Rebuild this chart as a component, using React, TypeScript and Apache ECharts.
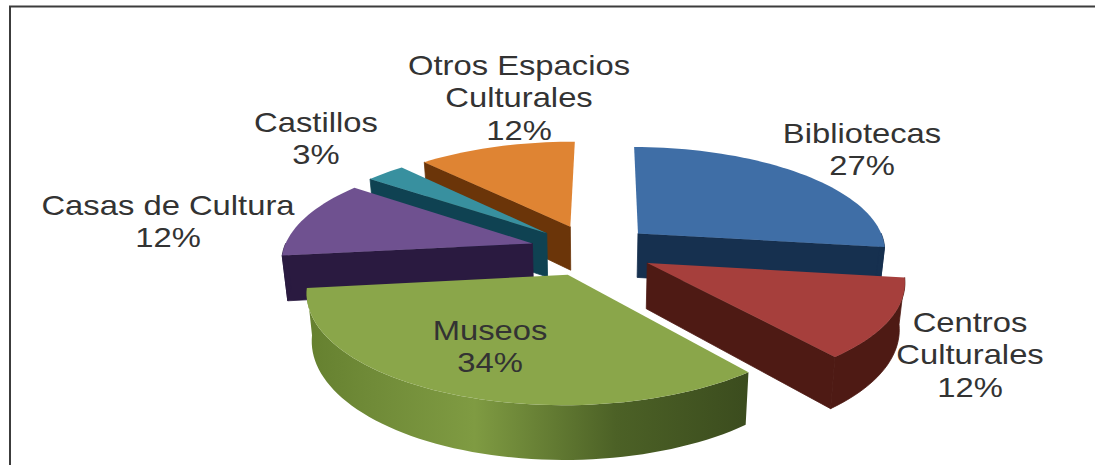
import React, { useEffect, useRef } from "react";
import * as echarts from "echarts";

// Share of cultural spaces by type, clockwise from twelve o'clock.
const categories = [
  "Bibliotecas",
  "Centros Culturales",
  "Museos",
  "Casas de Cultura",
  "Castillos",
  "Otros Espacios Culturales",
];
const percentages = [27, 12, 34, 12, 3, 12];

// Back-to-front order of the slices, as indices into the lists above.
const paintOrder = [0, 5, 4, 3, 1, 2];

const topColors = ["#3f6ea6", "#a63f3c", "#8aa64a", "#6f5190", "#38909f", "#df8433"];
const sideColors = ["#16304f", "#4e1a14", "#46591f", "#2a1a40", "#0f4252", "#6b3509"];

// Projection of the tilted pie onto the page.
const CX = 592;
const CY = 250;
const RX = 249;
const RY = 103.5;
const PERSPECTIVE = 0.145;
const EXPLODE = 0.25;
const DEPTH = 45;
const DROP_SHRINK = 0.018;
const START_DEG = 0.5;

const rad = (d: number) => (d * Math.PI) / 180;

function project(px: number, py: number, drop: number) {
  const s = 1 / (1 + PERSPECTIVE * py);
  const shrink = 1 - DROP_SHRINK * drop;
  return [CX + RX * px * s * shrink, CY - RY * py * s + drop * DEPTH * s];
}

function rimPoints(ox: number, oy: number, from: number, to: number, drop: number) {
  const pts: number[][] = [];
  const steps = Math.max(2, Math.ceil((to - from) / 2));
  for (let i = 0; i <= steps; i++) {
    const a = rad(from + ((to - from) * i) / steps);
    pts.push(project(ox + Math.sin(a), oy + Math.cos(a), drop));
  }
  return pts;
}

function sliceElements(index: number) {
  const before = percentages.slice(0, index).reduce((a, b) => a + b, 0);
  const from = START_DEG + before * 3.6;
  const to = from + percentages[index] * 3.6;
  const mid = rad((from + to) / 2);
  const ox = EXPLODE * Math.sin(mid);
  const oy = EXPLODE * Math.cos(mid);

  const side = sideColors[index];
  const apexTop = project(ox, oy, 0);
  const apexLow = project(ox, oy, 1);
  const children: any[] = [];
  const poly = (points: number[][], fill: any, stroke: string | null = null) =>
    children.push({
      type: "polygon",
      shape: { points },
      style: { fill, stroke, lineWidth: stroke ? 0.8 : 0 },
    });

  // Flat cut faces first, skipping the ones turned away from the viewer.
  const cutFace = (a: number) => {
    const rimTop = rimPoints(ox, oy, a, a, 0)[0];
    const rimLow = rimPoints(ox, oy, a, a, 1)[0];
    poly([apexTop, rimTop, rimLow, apexLow], side, side);
  };
  if (Math.sin(rad(from)) < -0.05) cutFace(from);
  if (Math.sin(rad(to)) > 0.05) cutFace(to);

  // Curved outer wall, only the part that faces the viewer.
  const wallFrom = Math.max(from, 90);
  const wallTo = Math.min(to, 270);
  if (wallTo > wallFrom) {
    const upper = rimPoints(ox, oy, wallFrom, wallTo, 0);
    const lower = rimPoints(ox, oy, wallFrom, wallTo, 1).reverse();
    const xs = upper.map((p) => p[0]);
    const x0 = Math.min(...xs);
    const x1 = Math.max(...xs);
    if (categories[index] === "Museos") {
      poly([...upper, ...lower], {
        type: "linear",
        x: x1,
        y: 0,
        x2: x0,
        y2: 0,
        global: true,
        colorStops: [
          { offset: 0, color: "#3b4c1e" },
          { offset: 0.3, color: "#4c6126" },
          { offset: 0.62, color: "#7f9b42" },
          { offset: 0.85, color: "#708b38" },
          { offset: 1, color: "#65802f" },
        ],
      });
    } else {
      poly([...upper, ...lower], side, side);
    }
  }

  // Top face.
  poly([apexTop, ...rimPoints(ox, oy, from, to, 0)], topColors[index]);
  return children;
}

const labelLines = (i: number) => {
  const name = categories[i];
  const broken =
    name === "Centros Culturales"
      ? "Centros\nCulturales"
      : name === "Otros Espacios Culturales"
        ? "Otros Espacios\nCulturales"
        : name;
  return `${broken}\n${percentages[i]}%`;
};

// Centre of each label block on the page.
const labelAnchors: Record<string, number[]> = {
  Bibliotecas: [862, 149],
  "Centros Culturales": [970, 354],
  Museos: [490, 346],
  "Casas de Cultura": [168, 221],
  Castillos: [316, 138],
  "Otros Espacios Culturales": [519, 97],
};

const TEXT_STRETCH = 1.17;

export default function App() {
  const ref = useRef<HTMLDivElement>(null);

  useEffect(() => {
    const chart = echarts.init(ref.current!, undefined, { renderer: "svg" });
    chart.setOption({
      animation: false,
      backgroundColor: "#ffffff",
      series: [
        {
          type: "custom",
          coordinateSystem: "none",
          silent: true,
          data: paintOrder.map((i) => [i, percentages[i]]),
          renderItem: (_params: any, api: any) => ({
            type: "group",
            children: sliceElements(api.value(0)),
          }),
          z: 2,
        },
      ],
      graphic: [
        {
          type: "polyline",
          shape: {
            points: [
              [10, 470],
              [10, 6.5],
              [1095, 6.5],
            ],
          },
          style: { stroke: "#3c3c3c", lineWidth: 2, fill: "none" },
          z: 1,
        },
        ...categories.map((name, i) => ({
          type: "text",
          x: labelAnchors[name][0],
          y: labelAnchors[name][1],
          scaleX: TEXT_STRETCH,
          z: 10,
          style: {
            text: labelLines(i),
            fontFamily: "Liberation Sans",
            fontSize: 28,
            lineHeight: 32.5,
            fill: "#333333",
            align: "center",
            verticalAlign: "middle",
          },
        })),
      ],
    });
    return () => chart.dispose();
  }, []);

  return <div ref={ref} style={{ position: "fixed", left: 0, top: 0, width: 1095, height: 465 }} />;
}
